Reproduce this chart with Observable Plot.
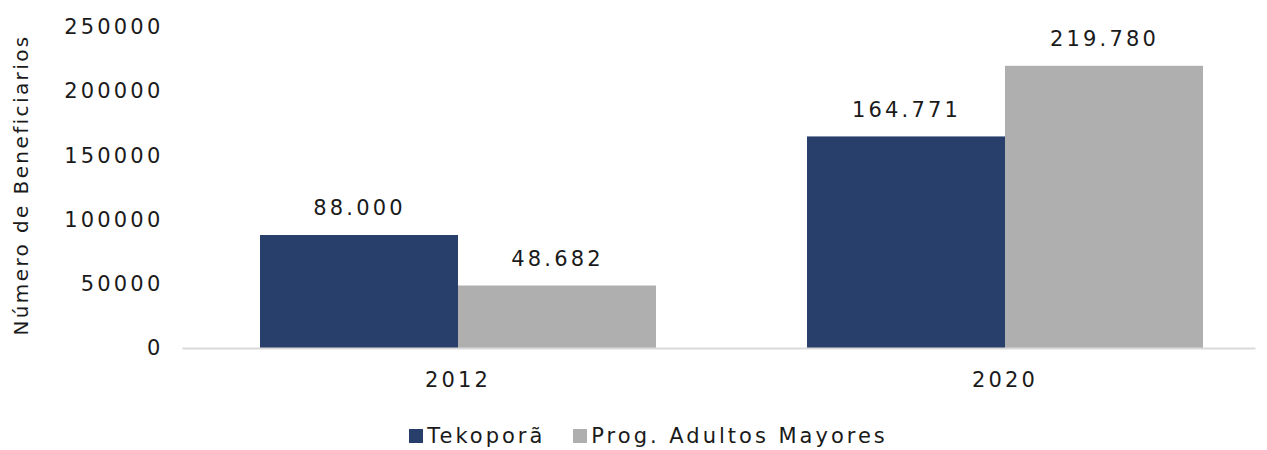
<!DOCTYPE html>
<html>
<head>
<meta charset="utf-8">
<script src="https://cdn.jsdelivr.net/npm/d3@7"></script>
<script src="https://cdn.jsdelivr.net/npm/@observablehq/plot@0.6"></script>
<style>
  html, body { margin: 0; padding: 0; background: #fff; }
  body { width: 1267px; height: 450px; overflow: hidden; font-family: "DejaVu Sans", sans-serif; color: #1a1a1a; }
  #legend { display: flex; justify-content: center; align-items: center; gap: 28px; font-size: 21px; letter-spacing: 3px; margin-top: 14px; padding-left: 30px; }
  #legend .item { display: flex; align-items: center; gap: 4px; }
  #legend .sw { width: 14px; height: 14px; display: inline-block; }
</style>
</head>
<body>
<div id="chart"></div>
<div id="legend"></div>
<script>
const years = ["2012", "2020"];
const series = ["Tekoporã", "Prog. Adultos Mayores"];
const tekopora = [88000, 164771];
const adultosMayores = [48682, 219780];
const yTicks = [0, 50000, 100000, 150000, 200000, 250000];
const colors = ["#283f6c", "#afafaf"];
const yLabel = "Número de Beneficiarios";

const data = [];
years.forEach((yr, i) => {
  data.push({year: yr, serie: series[0], value: tekopora[i]});
  data.push({year: yr, serie: series[1], value: adultosMayores[i]});
});

const es = d3.formatLocale({decimal: ",", thousands: ".", grouping: [3], currency: ["", ""]});
const fmt = es.format(",d");

const chart = Plot.plot({
  width: 1267,
  height: 410,
  marginLeft: 259,
  marginRight: 63,
  marginTop: 27,
  marginBottom: 62,
  style: {fontFamily: "DejaVu Sans, sans-serif", fontSize: "21px", color: "#1a1a1a", letterSpacing: "3.2px"},
  fx: {domain: years, paddingInner: 0.274, paddingOuter: 0, label: null, tickSize: 0, tickPadding: 24},
  x: {domain: series, axis: null, padding: 0},
  y: {domain: [0, 250000], axis: null},
  color: {domain: series, range: colors},
  marks: [
    Plot.barY(data, {fx: "year", x: "serie", y: "value", fill: "serie"}),
    Plot.frame({anchor: "bottom", facet: "super", stroke: "#d9d9d9", strokeWidth: 2, insetLeft: -76, insetRight: -51}),
    Plot.text(data, {fx: "year", x: "serie", y: "value", text: d => fmt(d.value), dy: -27, fill: "#1a1a1a", fontSize: 21}),
    Plot.axisY({ticks: yTicks, tickFormat: d3.format("d"), tickSize: 0, tickPadding: 96, label: null, fontSize: 21}),
    Plot.axisY({ticks: [], label: yLabel, labelAnchor: "center", labelArrow: "none", labelOffset: 246, fontSize: 20})
  ]
});
d3.select(chart).selectAll("text").filter(function () { return this.textContent === yLabel; })
  .style("letter-spacing", "2.4px").attr("dx", "3");
document.getElementById("chart").appendChild(chart);

const legend = document.getElementById("legend");
series.forEach((s, i) => {
  const item = document.createElement("div");
  item.className = "item";
  const sw = document.createElement("span");
  sw.className = "sw";
  sw.style.background = colors[i];
  const lab = document.createElement("span");
  lab.textContent = s;
  item.appendChild(sw);
  item.appendChild(lab);
  legend.appendChild(item);
});
</script>
</body>
</html>
